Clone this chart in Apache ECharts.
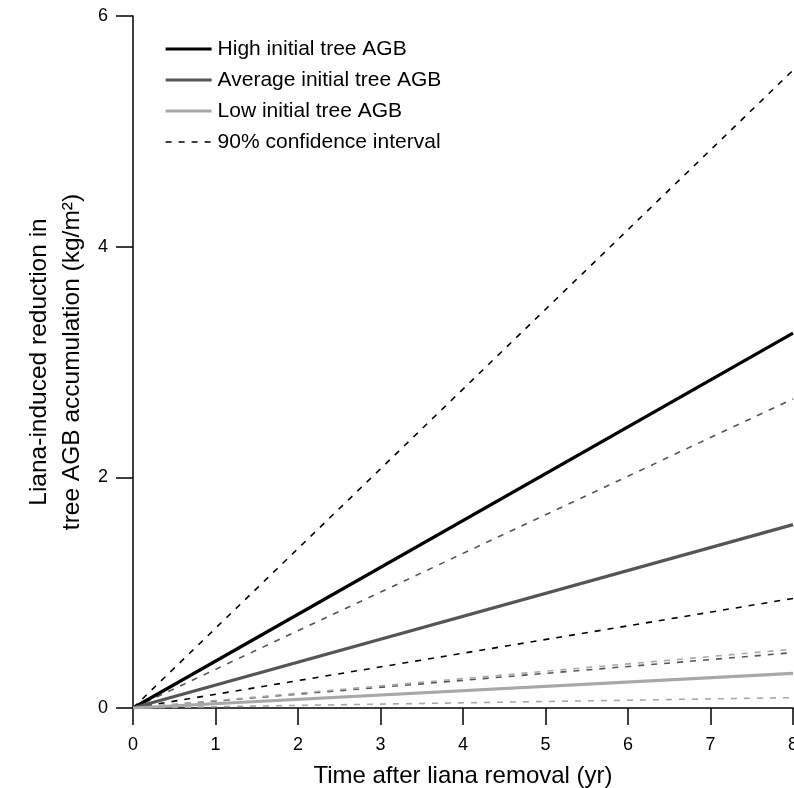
<!DOCTYPE html>
<html>
<head>
<meta charset="utf-8">
<script src="https://cdn.jsdelivr.net/npm/echarts@6/dist/echarts.min.js"></script>
<style>
html,body{margin:0;padding:0;background:#fff;}
#chart{width:794px;height:788px;}
</style>
</head>
<body>
<div id="chart"></div>
<script>
// Data
const years = [0, 8];
const xTicks = [0, 1, 2, 3, 4, 5, 6, 7, 8];
const yTicks = [0, 2, 4, 6];
const highFit = [0, 3.25];
const highLower = [0, 0.95];
const highUpper = [0, 5.53];
const avgFit = [0, 1.59];
const avgLower = [0, 0.48];
const avgUpper = [0, 2.68];
const lowFit = [0, 0.30];
const lowLower = [0, 0.09];
const lowUpper = [0, 0.51];

const names = ['High initial tree AGB', 'Average initial tree AGB', 'Low initial tree AGB', '90% confidence interval'];
const FONT = '"Liberation Sans", Arial, Helvetica, sans-serif';
const BLACK = '#000', DARK = '#555', LIGHT = '#a8a8a8';

function pairs(vals) { return years.map((x, i) => [x, vals[i]]); }
function solid(name, vals, color) {
  return { name, type: 'line', data: pairs(vals), symbol: 'none', silent: true, z: 3,
    lineStyle: { color, width: 3.2, type: 'solid' }, itemStyle: { color } };
}
function dashed(vals, color) {
  return { name: names[3], type: 'line', data: pairs(vals), symbol: 'none', silent: true, z: 2,
    lineStyle: { color, width: 1.6, type: [6, 7] }, itemStyle: { color } };
}

const chart = echarts.init(document.getElementById('chart'), null, { renderer: 'canvas' });
chart.setOption({
  animation: false,
  backgroundColor: '#fff',
  textStyle: { fontFamily: FONT, color: '#000' },
  grid: { left: 133, right: 1, top: 16, bottom: 80, containLabel: false, outerBoundsMode: 'none' },
  legend: {
    orient: 'vertical', left: 159, top: 33,
    data: [
      { name: names[0], lineStyle: { width: 3.2, color: BLACK } },
      { name: names[1], lineStyle: { width: 3.2, color: DARK } },
      { name: names[2], lineStyle: { width: 3.2, color: LIGHT } },
      { name: names[3], lineStyle: { width: 1.6, color: BLACK, type: [6, 7] } }
    ],
    itemWidth: 46, itemHeight: 14, itemGap: 9,
    selectedMode: false,
    itemStyle: { opacity: 0 },
    textStyle: { fontFamily: FONT, fontSize: 21, color: '#000', lineHeight: 22, padding: [0, 0, 0, 1] }
  },
  xAxis: {
    type: 'value', min: 0, max: 8, interval: 1,
    name: 'Time after liana removal (yr)', nameLocation: 'middle', nameGap: 56,
    nameMoveOverlap: false,
    nameTextStyle: { fontFamily: FONT, fontSize: 24, color: '#000' },
    axisLine: { show: true, onZero: false, lineStyle: { color: '#000', width: 1.5 } },
    axisTick: { show: true, inside: false, length: 17, lineStyle: { color: '#000', width: 1.5 } },
    axisLabel: { fontFamily: FONT, fontSize: 18, color: '#000', margin: 28,
      formatter: v => xTicks.includes(v) ? String(v) : '' },
    splitLine: { show: false }
  },
  yAxis: {
    type: 'value', min: 0, max: 6, interval: 2,
    name: 'Liana-induced reduction in\ntree AGB accumulation (kg/m²)', nameLocation: 'middle', nameGap: 44,
    nameMoveOverlap: false,
    nameTextStyle: { fontFamily: FONT, fontSize: 24.5, color: '#000', lineHeight: 33 },
    axisLine: { show: true, onZero: false, lineStyle: { color: '#000', width: 1.5 } },
    axisTick: { show: true, inside: false, length: 17, lineStyle: { color: '#000', width: 1.5 } },
    axisLabel: { fontFamily: FONT, fontSize: 18, color: '#000', margin: 25,
      formatter: v => yTicks.includes(v) ? String(v) : '' },
    splitLine: { show: false }
  },
  series: [
    dashed(highUpper, BLACK),
    dashed(highLower, BLACK),
    dashed(avgUpper, DARK),
    dashed(avgLower, DARK),
    dashed(lowUpper, LIGHT),
    dashed(lowLower, LIGHT),
    solid(names[0], highFit, BLACK),
    solid(names[1], avgFit, DARK),
    solid(names[2], lowFit, LIGHT)
  ]
});
</script>
</body>
</html>
